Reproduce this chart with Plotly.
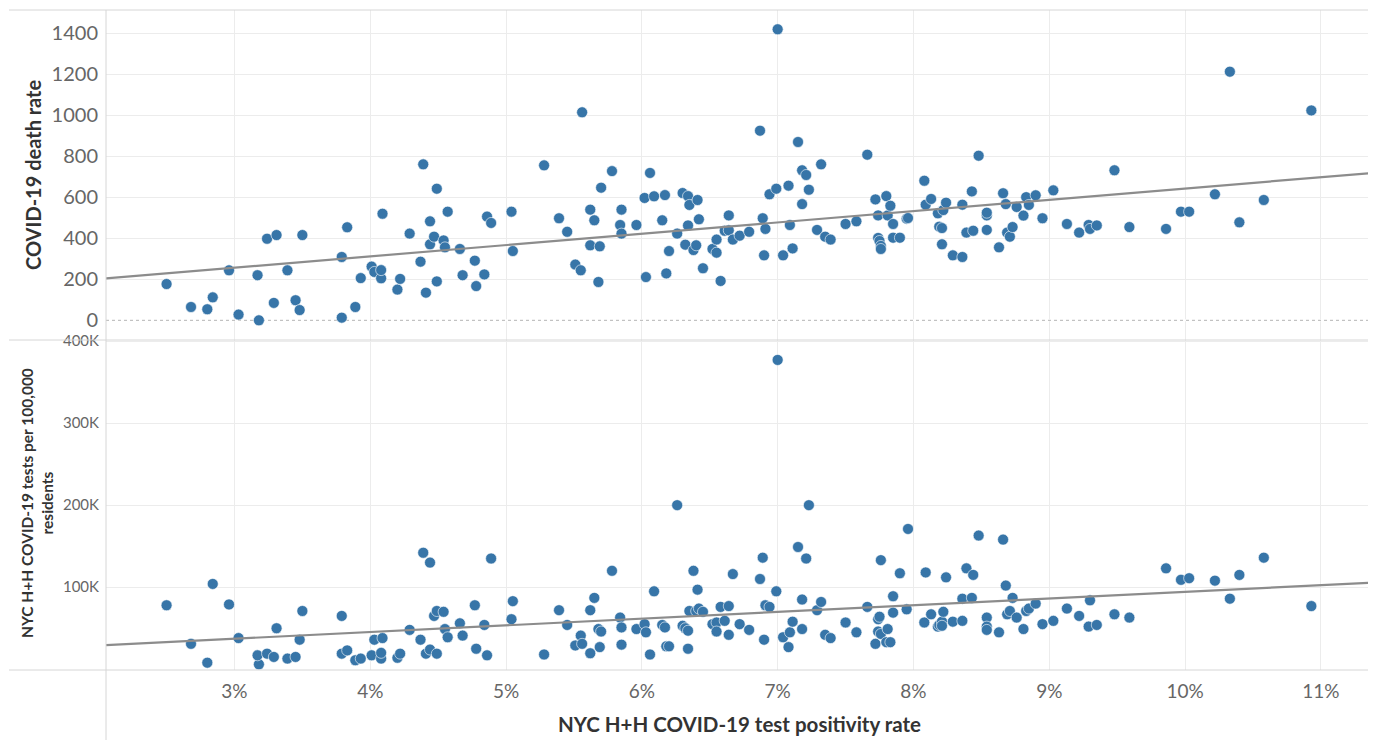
import numpy as np
import plotly.graph_objects as go
from plotly.subplots import make_subplots

# ---- data ----
positivity_pct = [
    2.50, 2.68, 2.80, 2.84, 2.96, 3.03, 3.18, 3.17, 3.24, 3.31, 3.29, 3.39, 3.45, 3.48, 3.50,
    3.79, 3.79, 3.83, 3.89, 3.93, 4.01, 4.03, 4.08, 4.08, 4.09, 4.20, 4.22, 4.29, 4.37, 4.39,
    4.41, 4.44, 4.44, 4.47, 4.49, 4.49, 4.54, 4.55, 4.57, 4.66, 4.68, 4.77, 4.78, 4.84, 4.86,
    4.89, 5.04, 5.05, 5.28,
    5.39, 5.45, 5.51, 5.55, 5.56, 5.62, 5.62, 5.65, 5.68, 5.69, 5.70, 5.78, 5.84, 5.85, 5.85,
    5.96, 6.02, 6.03, 6.06, 6.09, 6.15, 6.17, 6.18, 6.20, 6.26, 6.30, 6.32, 6.34, 6.34, 6.35,
    6.38, 6.40, 6.41, 6.42, 6.45, 6.52, 6.55, 6.55, 6.58, 6.61, 6.64, 6.64, 6.67, 6.72, 6.79,
    6.87, 6.89, 6.90, 6.91, 6.94, 6.99, 7.00, 7.04, 7.08, 7.09, 7.11, 7.15, 7.18, 7.18, 7.21,
    7.23, 7.29, 7.32, 7.35, 7.39, 7.50, 7.58, 7.66, 7.72, 7.74, 7.74, 7.75, 7.76, 7.76, 7.80,
    7.81, 7.83, 7.85, 7.85, 7.90, 7.95, 7.96, 8.08, 8.09, 8.13, 8.18, 8.19, 8.21, 8.21, 8.22,
    8.24, 8.29,
    8.36, 8.36, 8.39, 8.43, 8.44, 8.48, 8.54, 8.54, 8.54, 8.63, 8.66, 8.68, 8.69, 8.71, 8.73,
    8.76, 8.81, 8.83, 8.85, 8.90, 8.95, 9.03, 9.13, 9.22, 9.29, 9.30, 9.35, 9.48, 9.59, 9.86,
    9.97, 10.03, 10.22, 10.33, 10.40, 10.58, 10.93,
]

death_rate = [
    177, 65, 54, 112, 244, 28, 0, 220, 398, 416, 85, 244, 98, 50, 416,
    13, 309, 454, 65, 206, 262, 236, 205, 245, 520, 150, 202, 423, 286, 761,
    135, 483, 371, 408, 642, 190, 390, 356, 530, 348, 220, 291, 167, 224, 506,
    475, 530, 338, 756,
    498, 432, 272, 244, 1015, 540, 366, 488, 187, 361, 647, 728, 465, 540, 423,
    465, 597, 211, 719, 605, 488, 611, 229, 338, 423, 621, 369, 606, 463, 563,
    343, 366, 587, 493, 254, 348, 394, 330, 192, 437, 512, 439, 394, 413, 432,
    925, 498, 317, 446, 615, 642, 1420, 317, 657, 465, 351, 870, 732, 567, 709,
    637, 441, 761, 408, 394, 470, 483, 808, 590, 512, 402, 387, 363, 348, 606,
    512, 559, 470, 403, 403, 496, 499, 681, 564, 592, 522, 457, 450, 371, 538,
    574, 317,
    564, 309, 428, 629, 437, 803, 512, 525, 441, 356, 620, 567, 428, 408, 455,
    553, 511, 601, 563, 610, 498, 634, 470, 428, 465, 446, 463, 732, 455, 446,
    530, 530, 615, 1213, 478, 587, 1024,
]

tests_per_100k = [
    78000, 31000, 8000, 104000, 79000, 38000, 6000, 17000, 19000, 50000, 15000, 13000, 15000, 36000, 71000,
    19000, 65000, 23000, 11000, 13000, 17000, 36000, 13000, 20000, 38000, 14000, 19000, 48000, 36000, 142000,
    19000, 24000, 130000, 65000, 71000, 19000, 70000, 49000, 39000, 56000, 41000, 78000, 25000, 54000, 17000,
    135000, 61000, 83000, 18000,
    72000, 54000, 29000, 41000, 31000, 72000, 19500, 87000, 49000, 27000, 46000, 120000, 63000, 51000, 30000,
    49000, 55000, 45000, 18000, 95000, 54000, 51000, 28000, 28000, 200000, 53000, 50000, 47000, 25000, 71000,
    120000, 71000, 97000, 74000, 70000, 55000, 57000, 46000, 76000, 59000, 77000, 42000, 116000, 55000, 48000,
    110000, 136000, 36000, 78000, 76000, 95000, 377000, 39000, 27000, 45000, 58000, 149000, 85000, 49000, 135000,
    200000, 72000, 82000, 42000, 38000, 57000, 45000, 76000, 31000, 61000, 46000, 64000, 133000, 43000, 33000,
    49000, 33000, 89000, 69000, 117000, 73000, 171000, 57000, 118000, 67000, 52000, 54000, 58000, 53000, 70000,
    112000, 58000,
    86000, 59000, 123000, 87000, 115000, 163000, 63000, 52000, 48000, 45000, 158000, 102000, 67000, 71000, 87000,
    63000, 49000, 71000, 74000, 80000, 55000, 59000, 74000, 65000, 52000, 84000, 54000, 67000, 63000, 123000,
    109000, 111000, 108000, 86000, 115000, 136000, 77000,
]

x_tick_vals = [3, 4, 5, 6, 7, 8, 9, 10, 11]
x_tick_text = ["3%", "4%", "5%", "6%", "7%", "8%", "9%", "10%", "11%"]
death_tick_vals = [0, 200, 400, 600, 800, 1000, 1200, 1400]
death_tick_text = ["0", "200", "400", "600", "800", "1000", "1200", "1400"]
tests_tick_vals = [100000, 200000, 300000, 400000]
tests_tick_text = ["100K", "200K", "300K", "400K"]

X_RANGE = [2.054, 11.384]
DEATH_RANGE = [-96, 1514]
TESTS_RANGE = [-900, 401300]

x = np.array(positivity_pct)
d = np.array(death_rate, dtype=float)
t = np.array(tests_per_100k, dtype=float)

# linear trend lines (least squares)
xs = np.array(X_RANGE)
d_fit = np.polyval(np.polyfit(x, d, 1), xs)
t_fit = np.polyval(np.polyfit(x, t, 1), xs)

DOT = "#3775a8"
TREND = "#8c8c8c"
GRID = "#ececec"
BORDER = "#d6d6d6"
TICK = "#666666"
TITLE = "#333333"
FONT = "Lato, 'Open Sans', sans-serif"

fig = make_subplots(rows=2, cols=1, shared_xaxes=True, vertical_spacing=0)

marker = dict(size=11, color=DOT, line=dict(color="white", width=0.6))
# zero reference line of the top panel (white mask hides the solid grid line)
fig.add_trace(go.Scatter(x=xs, y=[0, 0], mode="lines", line=dict(color="white", width=2),
                         showlegend=False, hoverinfo="skip"), row=1, col=1)
fig.add_trace(go.Scatter(x=xs, y=[0, 0], mode="lines",
                         line=dict(color="#b5b5b5", width=1, dash="dot"),
                         showlegend=False, hoverinfo="skip"), row=1, col=1)
fig.add_trace(go.Scatter(x=x, y=d, mode="markers", marker=marker, showlegend=False,
                         hovertemplate="%{x:.2f}%<br>%{y}<extra></extra>"), row=1, col=1)
fig.add_trace(go.Scatter(x=xs, y=d_fit, mode="lines", line=dict(color=TREND, width=2.2),
                         showlegend=False, hoverinfo="skip"), row=1, col=1)
fig.add_trace(go.Scatter(x=x, y=t, mode="markers", marker=marker, showlegend=False,
                         hovertemplate="%{x:.2f}%<br>%{y}<extra></extra>"), row=2, col=1)
fig.add_trace(go.Scatter(x=xs, y=t_fit, mode="lines", line=dict(color=TREND, width=2.2),
                         showlegend=False, hoverinfo="skip"), row=2, col=1)

common_x = dict(range=X_RANGE, tickvals=x_tick_vals, showgrid=True, gridcolor=GRID,
                gridwidth=1, zeroline=False, showline=False, ticks="", automargin=False)
fig.update_xaxes(**common_x)
fig.update_xaxes(showticklabels=False, row=1, col=1)
fig.update_xaxes(ticktext=x_tick_text, tickfont=dict(family=FONT, size=19, color=TICK),
                 ticklabelstandoff=8, row=2, col=1)

fig.update_yaxes(range=DEATH_RANGE, tickvals=death_tick_vals, ticktext=death_tick_text,
                 tickfont=dict(family=FONT, size=20, color=TICK), showgrid=True,
                 gridcolor=GRID, zeroline=False, showline=False, ticks="",
                 ticklabelstandoff=7, automargin=False,
                 domain=[0.5, 1.0], row=1, col=1)
fig.update_yaxes(range=TESTS_RANGE, tickvals=tests_tick_vals, ticktext=tests_tick_text,
                 tickfont=dict(family=FONT, size=15, color=TICK), showgrid=True,
                 gridcolor=GRID, zeroline=False, showline=False, ticks="",
                 ticklabelstandoff=6, automargin=False,
                 domain=[0.0, 0.5], row=2, col=1)

# The page body has an 8px margin, so the figure sits at (8, 8) on screen.
OFF = 8
W, H = 1368, 732
ML, MR, MT, MB = 106 - OFF, 3, 10 - OFF, 70
pw, ph = W - ML - MR, H - MT - MB


def px_x(p):  # screen x -> paper x
    return (p - OFF - ML) / pw


def px_y(p):  # screen y -> paper y
    return (H - MB - (p - OFF)) / ph


shapes = [
    dict(type="line", xref="paper", yref="paper", x0=px_x(9), x1=1, y0=1, y1=1,
         line=dict(color=BORDER, width=1)),
    dict(type="line", xref="paper", yref="paper", x0=px_x(9), x1=1, y0=0.5, y1=0.5,
         line=dict(color=BORDER, width=1)),
    dict(type="line", xref="paper", yref="paper", x0=px_x(9), x1=1, y0=0, y1=0,
         line=dict(color=BORDER, width=1)),
    dict(type="line", xref="paper", yref="paper", x0=0, x1=0, y0=px_y(740), y1=1,
         line=dict(color=BORDER, width=1)),
    dict(type="line", xref="paper", yref="paper", x0=1, x1=1, y0=0, y1=1,
         line=dict(color=BORDER, width=1)),
]

annotations = [
    dict(text="<b>COVID-19 death rate</b>", xref="paper", yref="paper",
         x=px_x(33), y=px_y(175), textangle=-90, showarrow=False,
         xanchor="center", yanchor="middle",
         font=dict(family=FONT, size=20, color=TITLE)),
    dict(text="<b>NYC H+H COVID-19 tests per 100,000<br>residents</b>", xref="paper",
         yref="paper", x=px_x(37), y=px_y(503), textangle=-90, showarrow=False,
         xanchor="center", yanchor="middle",
         font=dict(family=FONT, size=15.5, color=TITLE)),
    dict(text="<b>NYC H+H COVID-19 test positivity rate</b>", xref="paper", yref="paper",
         x=px_x(739), y=px_y(724), showarrow=False, xanchor="center", yanchor="middle",
         font=dict(family=FONT, size=20.5, color=TITLE)),
]

fig.update_layout(
    width=W, height=H,
    margin=dict(l=ML, r=MR, t=MT, b=MB, pad=0, autoexpand=False),
    paper_bgcolor="white", plot_bgcolor="white",
    shapes=shapes, annotations=annotations,
    font=dict(family=FONT),
)

fig.write_html("out.html")
